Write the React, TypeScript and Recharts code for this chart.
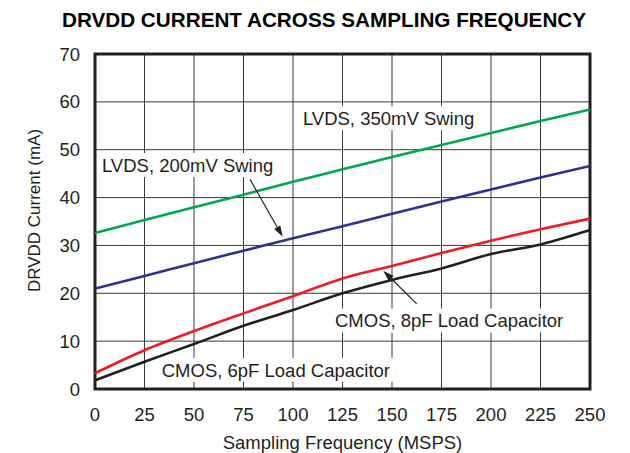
import React, { useLayoutEffect, useRef, useState } from 'react'
import {
  LineChart,
  Line,
  XAxis,
  YAxis,
  CartesianGrid,
  ReferenceArea,
  ReferenceDot,
  ReferenceLine,
} from 'recharts'

const frequency = [0, 25, 50, 75, 100, 125, 150, 175, 200, 225, 250]
const lvds350 = [32.6, 35.3, 38.0, 40.6, 43.3, 45.9, 48.5, 51.0, 53.5, 56.0, 58.4]
const lvds200 = [21.0, 23.6, 26.3, 28.9, 31.5, 34.0, 36.6, 39.2, 41.7, 44.2, 46.6]
const cmos8pF = [3.3, 8.1, 12.1, 15.8, 19.4, 23.1, 25.7, 28.4, 31.0, 33.4, 35.6]
const cmos6pF = [1.8, 5.7, 9.4, 13.2, 16.5, 20.0, 22.8, 25.2, 28.2, 30.2, 33.2]

const xTicks = [0, 25, 50, 75, 100, 125, 150, 175, 200, 225, 250]
const yTicks = [0, 10, 20, 30, 40, 50, 60, 70]

// label anchor = left edge / vertical middle of text, in data units
const labelText = ['LVDS, 350mV Swing', 'LVDS, 200mV Swing', 'CMOS, 8pF Load Capacitor', 'CMOS, 6pF Load Capacitor']
const labelX = [105, 3.5, 121.2, 33.7]
const labelY = [56.6, 46.8, 14.3, 4.0]

const arrowFrom = [{ x: 78.3, y: 43.8 }, { x: 162.5, y: 17.8 }]
const arrowTo = [{ x: 94.8, y: 31.8 }, { x: 145.6, y: 24.7 }]

const FONT = '"Liberation Sans", Arial, Helvetica, sans-serif'
const INK = '#231F20'

const data = frequency.map((f, i) => ({
  f,
  lvds350: lvds350[i],
  lvds200: lvds200[i],
  cmos8pF: cmos8pF[i],
  cmos6pF: cmos6pF[i],
}))

function BoxedLabel({ cx, cy, text }: { cx?: number; cy?: number; text: string }) {
  const ref = useRef<SVGTextElement>(null)
  const [w, setW] = useState(0)
  useLayoutEffect(() => {
    if (ref.current) setW(ref.current.getComputedTextLength())
  }, [text])
  if (cx == null || cy == null) return null
  return (
    <g>
      <rect x={cx - 3} y={cy - 12} width={w + 6} height={24} fill="#fff" />
      <text ref={ref} x={cx} y={cy} dy="0.36em" fontSize={18.5} fontFamily={FONT} fill={INK}>
        {text}
      </text>
    </g>
  )
}

function Arrow(props: any) {
  const { x1, y1, x2, y2 } = props
  if ([x1, y1, x2, y2].some(v => v == null || isNaN(v))) return null
  const ang = Math.atan2(y2 - y1, x2 - x1)
  const len = 11
  const half = 3.5
  const bx = x2 - len * Math.cos(ang)
  const by = y2 - len * Math.sin(ang)
  const px = -Math.sin(ang) * half
  const py = Math.cos(ang) * half
  return (
    <g>
      <line x1={x1} y1={y1} x2={bx} y2={by} stroke={INK} strokeWidth={1.2} />
      <polygon points={`${x2},${y2} ${bx + px},${by + py} ${bx - px},${by - py}`} fill={INK} />
    </g>
  )
}

function YTitle(props: any) {
  const vb = props.viewBox
  if (!vb) return null
  const x = vb.x + 33.5
  const y = vb.y + vb.height / 2 - 11
  return (
    <text
      x={x}
      y={y}
      transform={`rotate(-90 ${x} ${y})`}
      textAnchor="middle"
      dy="0.36em"
      fontSize={17}
      fontFamily={FONT}
      fill={INK}
    >
      DRVDD Current (mA)
    </text>
  )
}

export default function App() {
  const tick = { fontSize: 18.5, fill: INK, fontFamily: FONT }
  return (
    <div style={{ position: 'fixed', left: 0, top: 0, width: 630, height: 453, background: '#fff' }}>
      <div
        style={{
          position: 'absolute',
          top: 9,
          left: 9,
          width: 630,
          textAlign: 'center',
          fontFamily: FONT,
          fontWeight: 'bold',
          fontSize: 20.7,
          lineHeight: '22px',
          color: '#000',
        }}
      >
        DRVDD CURRENT ACROSS SAMPLING FREQUENCY
      </div>
      <LineChart width={630} height={453} data={data} margin={{ top: 54, right: 40, left: 0, bottom: 0 }}>
        <CartesianGrid stroke="#3a3a3a" strokeWidth={1} />
        <XAxis
          dataKey="f"
          type="number"
          domain={[0, 250]}
          ticks={xTicks}
          height={64}
          tickSize={0}
          tickMargin={19}
          axisLine={false}
          tick={tick}
          label={{ value: 'Sampling Frequency (MSPS)', position: 'insideBottom', offset: 4, style: { ...tick, textAnchor: 'middle' } }}
        />
        <YAxis
          type="number"
          domain={[0, 70]}
          ticks={yTicks}
          width={95}
          tickSize={0}
          tickMargin={15}
          axisLine={false}
          tick={tick}
          label={{ content: (p: any) => <YTitle {...p} /> }}
        />
        <Line dataKey="lvds350" type="monotone" stroke="#00A651" strokeWidth={2.6} dot={false} isAnimationActive={false} />
        <Line dataKey="lvds200" type="monotone" stroke="#2E3192" strokeWidth={2.6} dot={false} isAnimationActive={false} />
        <Line dataKey="cmos8pF" type="monotone" stroke="#ED1C24" strokeWidth={2.6} dot={false} isAnimationActive={false} />
        <Line dataKey="cmos6pF" type="monotone" stroke={INK} strokeWidth={2.6} dot={false} isAnimationActive={false} />
        {labelText.map((t, i) => (
          <ReferenceDot
            key={t}
            x={labelX[i]}
            y={labelY[i]}
            r={0}
            shape={(p: any) => <BoxedLabel cx={p.cx} cy={p.cy} text={t} />}
          />
        ))}
        {arrowFrom.map((a, i) => (
          <ReferenceLine key={i} segment={[a, arrowTo[i]]} shape={(p: any) => <Arrow {...p} />} />
        ))}
        <ReferenceArea x1={0} x2={250} y1={0} y2={70} fill="none" stroke={INK} strokeWidth={3} />
      </LineChart>
    </div>
  )
}
